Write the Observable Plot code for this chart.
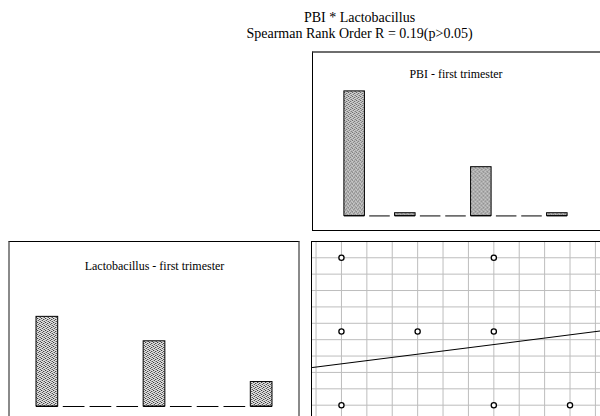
<!DOCTYPE html>
<html><head><meta charset="utf-8">
<script src="https://cdn.jsdelivr.net/npm/d3@7"></script>
<script src="https://cdn.jsdelivr.net/npm/@observablehq/plot@0.6"></script>
<style>
html,body{margin:0;padding:0;background:#fff;overflow:hidden;width:600px;height:416px;}
#fig{position:relative;width:600px;height:416px;font-family:"Liberation Serif","Times New Roman",serif;overflow:hidden;}
.title{position:absolute;left:0;top:10px;width:719px;text-align:center;font-size:14px;line-height:15.5px;color:#000;}
.panel{position:absolute;}
.panel svg{display:block;}
.panel svg text{font-family:"Liberation Serif","Times New Roman",serif !important;}
.border{position:absolute;box-sizing:border-box;pointer-events:none;}
</style></head><body>
<svg width="0" height="0" style="position:absolute">
<defs>
<pattern id="stipple" width="4" height="4" patternUnits="userSpaceOnUse">
<rect width="4" height="4" fill="#e0e0e0"/>
<rect x="0" y="0" width="1" height="1" fill="#3a3a3a"/>
<rect x="2" y="1" width="1" height="1" fill="#4a4a4a"/>
<rect x="1" y="2" width="1" height="1" fill="#555"/>
<rect x="3" y="3" width="1" height="1" fill="#555"/>
<rect x="3" y="1" width="1" height="1" fill="#a0a0a0"/>
<rect x="1" y="0" width="1" height="1" fill="#b0b0b0"/>
<rect x="2" y="3" width="1" height="1" fill="#a0a0a0"/>
<rect x="0" y="2" width="1" height="1" fill="#b0b0b0"/>
</pattern>
</defs>
</svg>
<div id="fig">
  <div class="title">PBI * Lactobacillus<br>Spearman Rank Order R = 0.19(p&gt;0.05)</div>
  <div class="panel" id="pbiHist" style="left:312px;top:52px;"></div>
  <div class="panel" id="lactoHist" style="left:9px;top:242px;"></div>
  <div class="panel" id="scatter" style="left:312px;top:242px;"></div>
  <div class="border" style="left:312px;top:51px;width:289px;height:180px;border-top:2px solid #6e6e6e;border-left:1px solid #000;border-bottom:1px solid #000;"></div>
  <div class="border" style="left:8px;top:241px;width:292px;height:180px;border-top:1px solid #000;border-left:2px solid #8a8a8a;border-right:2px solid #8a8a8a;"></div>
  <div class="border" style="left:311px;top:241px;width:290px;height:180px;border-top:1px solid #000;border-left:1px solid #000;"></div>
</div>
<script>
// Histogram: PBI - first trimester (9 bins, counts)
const pbiBins = [1, 2, 3, 4, 5, 6, 7, 8, 9];
const pbiCounts = [46, 0, 1, 0, 0, 18, 0, 0, 1];
const pbiTitle = "PBI - first trimester";

// Histogram: Lactobacillus - first trimester (9 bins, counts)
const lactoBins = [1, 2, 3, 4, 5, 6, 7, 8, 9];
const lactoCounts = [33, 0, 0, 0, 24, 0, 0, 0, 9];
const lactoTitle = "Lactobacillus - first trimester";

// Scatterplot points (PBI on x, Lactobacillus on y)
const scatterPBI   = [0, 0, 0, 1, 2, 2, 2, 3];
const scatterLacto = [0, 1, 2, 1, 0, 1, 2, 0];

// Fitted regression line
const regIntercept = 0.561;
const regSlope = 0.131;

// Grid ticks of the scatterplot
const xGridTicks = [-1/3, 0, 1/3, 2/3, 1, 4/3, 5/3, 2, 7/3, 8/3, 3, 10/3];
const yGridTicks = [0, 2/9, 4/9, 6/9, 8/9, 10/9, 12/9, 14/9, 16/9, 2];

const countMax = 60;
const serif = "Liberation Serif, Times New Roman, serif";

function hist(bins, counts, title, width, ml, mr, titleDy) {
  const data = bins.map((b, i) => ({bin: b, count: counts[i]}));
  return Plot.plot({
    width, height: 178,
    marginTop: 1, marginBottom: 14, marginLeft: ml, marginRight: mr,
    style: {background: "transparent", fontFamily: serif},
    x: {type: "band", domain: bins, paddingInner: 0.19, paddingOuter: 0, round: false, axis: null},
    y: {domain: [0, countMax], axis: null},
    marks: [
      Plot.barY(data.filter(d => d.count > 0), {x: "bin", y: "count", fill: "url(#stipple)", stroke: "#000", strokeWidth: 1}),
      Plot.tickY(data, {x: "bin", y: 0, stroke: "#000", strokeWidth: 1}),
      Plot.text([title], {frameAnchor: "top", lineAnchor: "bottom", dy: titleDy, text: d => d, fontSize: 12, fontFamily: serif, fill: "#000"})
    ]
  });
}

document.getElementById("pbiHist").append(hist(pbiBins, pbiCounts, pbiTitle, 289, 32, 33, 25));
document.getElementById("lactoHist").append(hist(lactoBins, lactoCounts, lactoTitle, 290, 27, 27, 26));

const xDomain = [-0.38, 3.40];
const pts = scatterPBI.map((x, i) => ({x, y: scatterLacto[i]}));
const scatter = Plot.plot({
  width: 289, height: 178, margin: 0,
  style: {background: "transparent"},
  x: {domain: xDomain, axis: null},
  y: {domain: [-0.199, 2.207], axis: null},
  marks: [
    Plot.ruleX(xGridTicks, {x: d => d, stroke: "#bdbdbd", strokeWidth: 1}),
    Plot.ruleY(yGridTicks, {y: d => d, stroke: "#bdbdbd", strokeWidth: 1}),
    Plot.line(xDomain, {x: d => d, y: d => regIntercept + regSlope * d, stroke: "#000", strokeWidth: 1.1}),
    Plot.dot(pts, {x: "x", y: "y", r: 2.6, stroke: "#000", fill: "#fff", strokeWidth: 1.3})
  ]
});
document.getElementById("scatter").append(scatter);
</script>
</body></html>
